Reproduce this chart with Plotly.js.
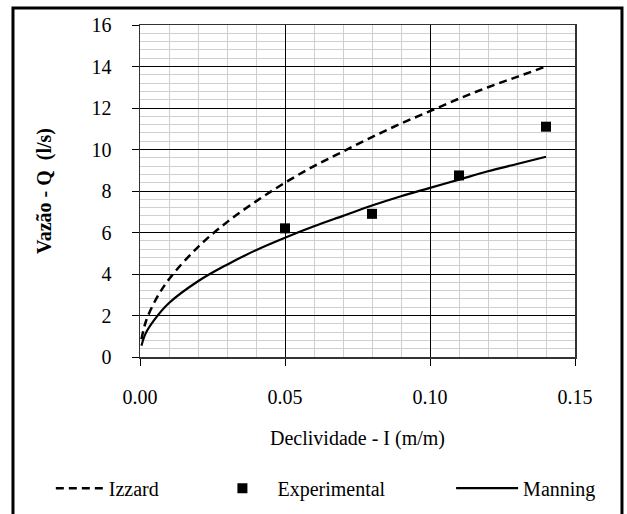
<!DOCTYPE html>
<html>
<head>
<meta charset="utf-8">
<script src="https://cdn.plot.ly/plotly-3.0.1.min.js"></script>
<style>
html,body{margin:0;padding:0;background:#fff;}
</style>
</head>
<body>
<div id="chart" style="width:627px;height:514px;"></div>
<script>
// Izzard curve
const izzardI = [0.0005, 0.002, 0.005, 0.01, 0.02, 0.03, 0.04, 0.05, 0.06, 0.07, 0.08, 0.09, 0.10, 0.11, 0.12, 0.13, 0.14];
const izzardQ = [0.85, 1.7, 2.65, 3.75, 5.3, 6.5, 7.5, 8.4, 9.2, 9.9, 10.6, 11.25, 11.85, 12.45, 13.0, 13.5, 14.0];
// Manning curve
const manningI = [0.0005, 0.002, 0.005, 0.01, 0.02, 0.03, 0.04, 0.05, 0.06, 0.07, 0.08, 0.09, 0.10, 0.11, 0.12, 0.13, 0.14];
const manningQ = [0.55, 1.15, 1.8, 2.6, 3.65, 4.45, 5.15, 5.75, 6.3, 6.8, 7.3, 7.75, 8.15, 8.55, 8.95, 9.3, 9.65];
// Experimental points
const expI = [0.05, 0.08, 0.11, 0.14];
const expQ = [6.2, 6.9, 8.75, 11.1];

const names = ["Izzard", "Experimental", "Manning"];
const xTitle = "Declividade - I (m/m)";
const yTitle = "Vazão - Q  (l/s)";

const serif = "Liberation Serif, Times New Roman, DejaVu Serif, serif";
const fs = 20;

const traces = [
  {x: izzardI, y: izzardQ, name: names[0], mode: "lines", type: "scatter", legend: "legend",
   line: {color: "#000", width: 2.5, dash: "8px,5px", shape: "spline"}},
  {x: expI, y: expQ, name: names[1], mode: "markers", type: "scatter", legend: "legend2",
   marker: {symbol: "square", size: 10, color: "#000"}},
  {x: manningI, y: manningQ, name: names[2], mode: "lines", type: "scatter", legend: "legend3",
   line: {color: "#000", width: 2.2, shape: "spline"}}
];

const legBase = {orientation: "h", yanchor: "middle", y: -0.395, bgcolor: "rgba(0,0,0,0)",
                 font: {family: serif, size: fs, color: "#000"}};

const layout = {
  width: 627, height: 514,
  margin: {l: 140, r: 52, t: 25, b: 157, autoexpand: false},
  paper_bgcolor: "#fff", plot_bgcolor: "#fff",
  font: {family: serif, color: "#000", size: fs},
  showlegend: true,
  legend: Object.assign({}, legBase, {x: -0.205, xanchor: "left", itemwidth: 48}),
  legend2: Object.assign({}, legBase, {x: 0.155, xanchor: "left", itemwidth: 60}),
  legend3: Object.assign({}, legBase, {x: 1.06, xanchor: "right", itemwidth: 62}),
  xaxis: {
    range: [0, 0.15], dtick: 0.05, tick0: 0, tickformat: ".2f",
    showgrid: true, gridcolor: "#000", gridwidth: 1,
    minor: {dtick: 0.01, showgrid: true, gridcolor: "#cfcfcf", gridwidth: 1},
    ticks: "outside", ticklen: 7, tickcolor: "#000", tickwidth: 1,
    ticklabelstandoff: 14,
    showline: true, linecolor: "#333", linewidth: 1.5, mirror: true,
    zeroline: false, tickfont: {family: serif, size: fs},
    title: {text: xTitle, standoff: 24, font: {family: serif, size: fs}}
  },
  yaxis: {
    range: [0, 16], dtick: 2, tick0: 0,
    showgrid: true, gridcolor: "#000", gridwidth: 1,
    minor: {dtick: 0.4, showgrid: true, gridcolor: "#cfcfcf", gridwidth: 1},
    ticks: "outside", ticklen: 7, tickcolor: "#000", tickwidth: 1,
    ticklabelstandoff: 16,
    showline: true, linecolor: "#333", linewidth: 1.5, mirror: true,
    zeroline: false, tickfont: {family: serif, size: fs},
    title: {text: "<b>" + yTitle + "</b>", standoff: 34, font: {family: serif, size: fs}}
  },
  shapes: [
    {type: "rect", xref: "paper", yref: "paper", x0: -0.292, x1: 1.108, y0: -0.6, y1: 1.051,
     line: {color: "#000", width: 3}, fillcolor: "rgba(0,0,0,0)", layer: "above"}
  ]
};

Plotly.newPlot("chart", traces, layout, {staticPlot: true, displayModeBar: false});
</script>
</body>
</html>
